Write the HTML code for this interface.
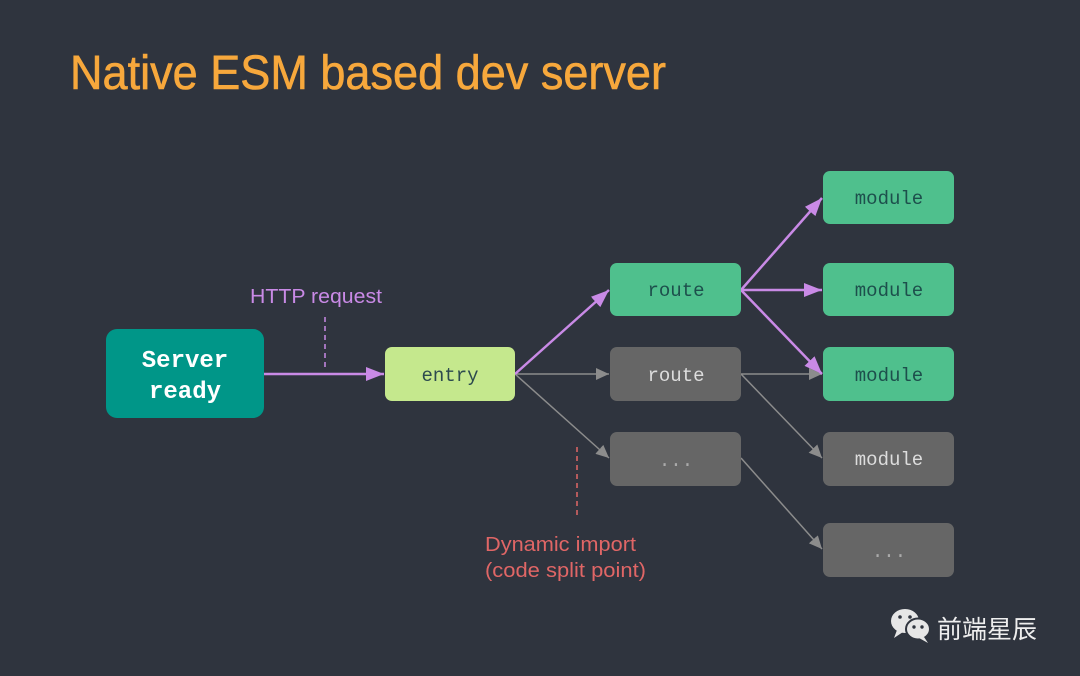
<!DOCTYPE html>
<html><head><meta charset="utf-8"><style>
html,body{margin:0;padding:0;background:#2f343e;}
svg{display:block}
</style></head><body>
<svg width="1080" height="676" viewBox="0 0 1080 676" xmlns="http://www.w3.org/2000/svg">
<defs>
<marker id="ap2" markerWidth="20" markerHeight="14" refX="18" refY="7" orient="auto" markerUnits="userSpaceOnUse"><path d="M0,0 L18,7 L0,14 Z" fill="#c98ae6"/></marker>
<marker id="ag" markerWidth="14" markerHeight="12" refX="13" refY="6" orient="auto" markerUnits="userSpaceOnUse"><path d="M0,0 L13,6 L0,12 Z" fill="#8c8c8c"/></marker>
</defs>
<rect width="1080" height="676" fill="#2f343e"/>
<text x="70" y="89" font-family="Liberation Sans, sans-serif" font-size="48" fill="#f7a83c" stroke="#f7a83c" stroke-width="0.6" textLength="596" lengthAdjust="spacingAndGlyphs">Native ESM based dev server</text>

<g stroke="#8c8c8c" stroke-width="1.5" fill="none">
<line x1="515" y1="374" x2="609" y2="374" marker-end="url(#ag)"/>
<line x1="515" y1="374" x2="609" y2="458" marker-end="url(#ag)"/>
<line x1="741" y1="374" x2="822" y2="374" marker-end="url(#ag)"/>
<line x1="741" y1="374" x2="822" y2="458" marker-end="url(#ag)"/>
<line x1="741" y1="458" x2="822" y2="549" marker-end="url(#ag)"/>
</g>
<g stroke="#c98ae6" stroke-width="2.5" fill="none">
<line x1="264" y1="374" x2="384" y2="374" marker-end="url(#ap2)"/>
<line x1="515" y1="374" x2="609" y2="290" marker-end="url(#ap2)"/>
<line x1="741" y1="290" x2="822" y2="198" marker-end="url(#ap2)"/>
<line x1="741" y1="290" x2="822" y2="290" marker-end="url(#ap2)"/>
<line x1="741" y1="290" x2="822" y2="374" marker-end="url(#ap2)"/>
</g>
<line x1="325" y1="317" x2="325" y2="369" stroke="#c98ae6" stroke-width="1.5" stroke-dasharray="5,4"/>
<line x1="577" y1="447" x2="577" y2="517" stroke="#e06666" stroke-width="1.5" stroke-dasharray="5,4"/>

<rect x="106" y="329" width="158" height="89" rx="11" fill="#009688"/>
<rect x="385" y="347" width="130" height="54" rx="7" fill="#c5e88d"/>
<rect x="610" y="263" width="131" height="53" rx="7" fill="#4fc08d"/>
<rect x="610" y="347" width="131" height="54" rx="7" fill="#666666"/>
<rect x="610" y="432" width="131" height="54" rx="7" fill="#666666"/>
<rect x="823" y="171" width="131" height="53" rx="7" fill="#4fc08d"/>
<rect x="823" y="263" width="131" height="53" rx="7" fill="#4fc08d"/>
<rect x="823" y="347" width="131" height="54" rx="7" fill="#4fc08d"/>
<rect x="823" y="432" width="131" height="54" rx="7" fill="#666666"/>
<rect x="823" y="523" width="131" height="54" rx="7" fill="#666666"/>

<g font-family="Liberation Mono, monospace" font-size="19" text-anchor="middle">
<text x="185" y="367" fill="#ffffff" font-weight="bold" font-size="24">Server</text>
<text x="185" y="398" fill="#ffffff" font-weight="bold" font-size="24">ready</text>
<text x="450" y="381" fill="#2c4a4e">entry</text>
<text x="676" y="296" fill="#1d4f4c">route</text>
<text x="676" y="381" fill="#dddddd">route</text>
<text x="676" y="466" fill="#aaaaaa">...</text>
<text x="889" y="204" fill="#1d4f4c">module</text>
<text x="889" y="296" fill="#1d4f4c">module</text>
<text x="889" y="381" fill="#1d4f4c">module</text>
<text x="889" y="465" fill="#dddddd">module</text>
<text x="889" y="557" fill="#aaaaaa">...</text>
</g>
<g font-family="Liberation Sans, sans-serif" font-size="20">
<text x="250" y="303" fill="#c98ae6" textLength="132" lengthAdjust="spacingAndGlyphs">HTTP request</text>
<text x="485" y="551" fill="#e06666" textLength="151" lengthAdjust="spacingAndGlyphs">Dynamic import</text>
<text x="485" y="577" fill="#e06666" textLength="161" lengthAdjust="spacingAndGlyphs">(code split point)</text>
</g>

<g fill="#e6e6e6">
<ellipse cx="905" cy="621" rx="14" ry="12"/>
<path d="M897,630 L894,638 L903,632 Z"/>
<ellipse cx="918" cy="629" rx="12" ry="10.5" stroke="#2f343e" stroke-width="2"/>
<path d="M924,637 L928,643 L919,638 Z"/>
</g>
<g fill="#2f343e"><circle cx="900" cy="617" r="1.8"/><circle cx="910" cy="617" r="1.8"/><circle cx="914" cy="627" r="1.7"/><circle cx="922" cy="627" r="1.7"/></g>
<text x="937" y="638" font-family="Liberation Sans, 'Noto Sans CJK SC', sans-serif" font-size="25" fill="#eeeeee">前端星辰</text>
</svg>
</body></html>
